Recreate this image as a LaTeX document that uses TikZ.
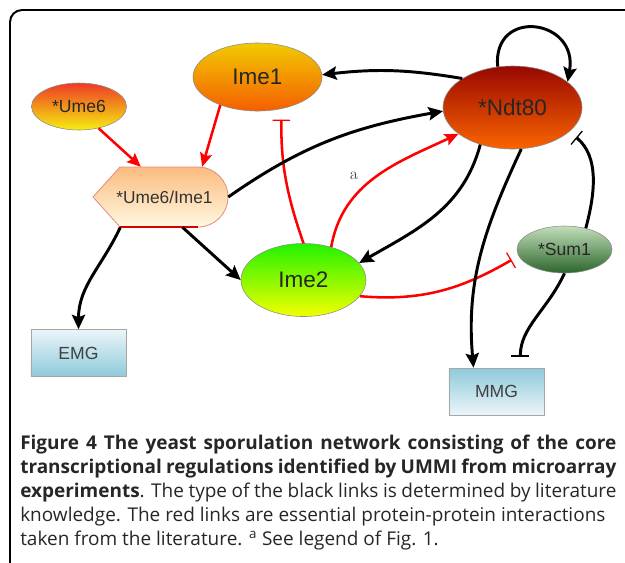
\documentclass[tikz,border=0pt]{standalone}
\usepackage{fontspec}
\newfontfamily\genefont{Liberation Sans}
\newfontfamily\captfont{Open Sans}
\usepackage{tikz}
\usetikzlibrary{arrows.meta}
\usetikzlibrary{shapes.geometric}

\definecolor{umeTop}{HTML}{EE3A26}
\definecolor{umeBot}{HTML}{F6EE10}
\definecolor{imeTop}{HTML}{F2CA02}
\definecolor{imeBot}{HTML}{F45E00}
\definecolor{ndtTop}{HTML}{980800}
\definecolor{ndtBot}{HTML}{FA6400}
\definecolor{imtTop}{HTML}{22F200}
\definecolor{imtBot}{HTML}{F4FF00}
\definecolor{sumTop}{HTML}{C2DEBA}
\definecolor{sumBot}{HTML}{2C662C}
\definecolor{uiTop}{HTML}{FBBC7E}
\definecolor{uiBot}{HTML}{FFF8E2}
\definecolor{uiLine}{HTML}{E0907E}
\definecolor{mgDark}{HTML}{8ECADA}
\definecolor{mgLight}{HTML}{ECF5FA}

\begin{document}
\begin{tikzpicture}[x=0.025cm,y=-0.025cm,
    gene/.style={ellipse,draw=black!45,inner sep=0pt,text=black!85,
        font=\genefont\fontsize{12.5}{14}\selectfont},
    biggene/.style={gene,font=\genefont\fontsize{16}{18}\selectfont},
    geneset/.style={rectangle,draw=black!35,inner sep=0pt,text=black!75,
        minimum width=2.375cm,minimum height=1.175cm,
        font=\genefont\fontsize{12.5}{14}\selectfont},
    act/.style={line width=2.1pt,-{Stealth[length=3.6mm,width=3.3mm,inset=0.6mm]}},
    ppi/.style={line width=1.8pt,red,-{Stealth[length=3.4mm,width=3mm,inset=0.6mm]}},
    inh/.style={line width=2.1pt,-{Bar[width=4.4mm,line width=0.9pt]}},
    ppiinh/.style={line width=1.8pt,red,-{Bar[width=4.4mm,line width=0.9pt]}}]
    \useasboundingbox (0,0) rectangle (625,562);
    \clip (0,0) rectangle (625,562);
    % 外框
    \draw[line width=1.4pt,rounded corners=0.3cm] (10,10) rectangle (660,600);
    % 基因节点
    \node[gene,minimum width=2.375cm,minimum height=1.175cm,
        top color=umeTop,bottom color=umeBot] (ume6) at (79,106.5) {*Ume6};
    \node[biggene,minimum width=3.225cm,minimum height=1.7cm,
        top color=imeTop,bottom color=imeBot] (ime1) at (257.5,77) {Ime1};
    \node[biggene,minimum width=3.475cm,minimum height=2.075cm,
        top color=ndtTop,bottom color=ndtBot] (ndt80) at (512.5,107.5) {*Ndt80};
    \node[biggene,minimum width=3.125cm,minimum height=1.825cm,
        top color=imtTop,bottom color=imtBot] (ime2) at (303.5,280) {Ime2};
    \node[gene,minimum width=2.375cm,minimum height=1.175cm,
        top color=sumTop,bottom color=sumBot] (sum1) at (564.5,249.5) {*Sum1};
    % 复合物
    \path[draw=uiLine,line width=0.6pt,top color=uiTop,bottom color=uiBot]
        (93,197) -- (120,167) -- (198,167)
        arc[start angle=90,end angle=-90,radius=0.75cm] -- (120,227) -- cycle;
    \draw[red!85!black,line width=0.8pt] (120,227) -- (198,227);
    \node[rectangle,inner sep=0pt,minimum width=3.375cm,minimum height=1.5cm,
        text=black!80,font=\genefont\fontsize{12.3}{14}\selectfont]
        (ui) at (160.5,197) {\hspace{0.2cm}*Ume6/Ime1};
    % 目标基因组
    \node[geneset,top color=mgLight,bottom color=mgDark] (emg) at (78.5,353) {EMG};
    \node[geneset,top color=mgDark,bottom color=mgLight] (mmg) at (496.5,391.5) {MMG};
    % 红色：蛋白相互作用
    \draw[ppi] (ume6.-48) -- (ui.123);
    \draw[ppi] (ime1.-143) -- (ui.36);
    \draw[ppiinh,shorten >=0.27cm] (ime2.north) to[bend left=10] (ime1.-53);
    \draw[ppi] (ime2.50) to[out=80,in=205] (ndt80.206);
    \node[font=\fontsize{12}{12}\selectfont,text=black!70] (lbla) at (354,176) {a};
    \draw[ppiinh,shorten >=0.2cm] (ime2.-16) to[out=-5,in=210] (sum1.188);
    % 黑色：转录调控
    \draw[act] (ndt80.150) to[bend right=8] (ime1.2);
    \draw[act] (ui.east) to[out=35,in=190] (ndt80.183);
    \draw[act] (ndt80.-131) to[out=-105,in=30] (ime2.17);
    \draw[act] (ui.-54) -- (ime2.west);
    \draw[act] (ui.-143) to[out=-115,in=90] (emg.north);
    \draw[act] (ndt80.-78) to[out=-115,in=95] (mmg.134);
    \draw[act] (ndt80.110) to[out=95,in=80,out distance=1.5cm,in distance=1.6cm] (ndt80.25);
    \draw[inh,shorten >=0.22cm] (sum1.45) to[out=75,in=-40] (ndt80.-23);
    \draw[inh,shorten >=0.275cm] (sum1.south) to[out=-115,in=90] (mmg.45);
    % 图注
    \node[anchor=base west,inner sep=0pt,text width=14.9cm,align=justify,
        font=\captfont\fontsize{13.5}{17.2}\selectfont,text=black!85] (capt) at (20,449)
        {\textbf{Figure 4 The yeast sporulation network consisting of the core\linebreak
        transcriptional regulations identified by UMMI from microarray\linebreak
        experiments}. The type of the black links is determined by literature\linebreak
        knowledge. The red links are essential protein-protein interactions\newline
        taken from the literature. \textsuperscript{a} See legend of Fig. 1.};
\end{tikzpicture}
\end{document}
